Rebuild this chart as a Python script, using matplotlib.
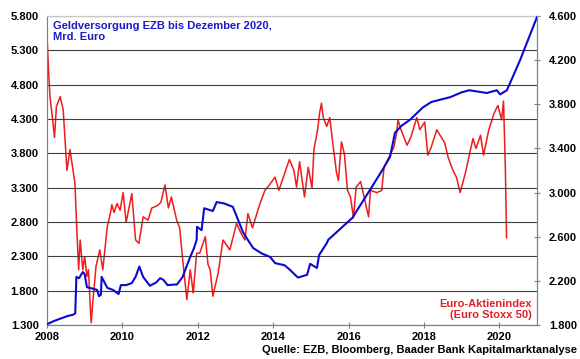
import matplotlib
matplotlib.use("Agg")
import matplotlib.pyplot as plt
from matplotlib.ticker import FuncFormatter

plt.rcParams['font.family'] = ['Liberation Sans', 'DejaVu Sans']
plt.rcParams['font.weight'] = 'bold'
plt.rcParams['font.size'] = 8

# EZB Geldversorgung, Mrd. Euro (linke Achse)
ezb_t = [2008.0, 2008.2, 2008.4, 2008.55, 2008.7, 2008.75, 2008.78, 2008.85, 2008.95, 2009.0,
         2009.06, 2009.2, 2009.33, 2009.38, 2009.43, 2009.45, 2009.6, 2009.75, 2009.9, 2009.96,
         2010.1, 2010.25, 2010.35, 2010.45, 2010.55, 2010.73, 2010.9, 2011.0, 2011.08, 2011.2,
         2011.45, 2011.6, 2011.7, 2011.8, 2011.9, 2011.97, 2011.98, 2012.1, 2012.17, 2012.4,
         2012.5, 2012.7, 2012.93, 2013.07, 2013.2, 2013.35, 2013.47, 2013.7, 2013.92, 2014.05,
         2014.3, 2014.45, 2014.58, 2014.66, 2014.9, 2014.98, 2015.16, 2015.22, 2015.42, 2015.46,
         2015.96, 2016.1, 2016.57, 2016.9, 2017.1, 2017.23, 2017.4, 2017.63, 2017.97, 2018.2,
         2018.7, 2019.0, 2019.2, 2019.67, 2019.93, 2020.02, 2020.2, 2020.55, 2021.0]
ezb_v = [1310, 1360, 1400, 1430, 1450, 1470, 2000, 1980, 2070, 2040,
         1850, 1830, 1810, 1720, 1740, 2000, 1840, 1810, 1750, 1880,
         1880, 1910, 2000, 2150, 2000, 1870, 1920, 1980, 1960, 1880,
         1890, 2000, 2150, 2290, 2420, 2540, 2730, 2680, 3000, 2960,
         3090, 3070, 3020, 2830, 2650, 2520, 2420, 2340, 2290, 2200,
         2170, 2100, 2030, 1990, 2030, 2190, 2130, 2320, 2490, 2540,
         2790, 2860, 3270, 3560, 3750, 4100, 4200, 4290, 4470, 4550,
         4620, 4690, 4720, 4680, 4720, 4660, 4720, 5160, 5790]

# Euro Stoxx 50 (rechte Achse)
sx_t = [2008.0, 2008.01, 2008.05, 2008.08, 2008.13, 2008.2, 2008.25, 2008.35, 2008.43, 2008.53,
        2008.61, 2008.68, 2008.74, 2008.8, 2008.84, 2008.88, 2008.95, 2009.0, 2009.06, 2009.1,
        2009.17, 2009.3, 2009.4, 2009.48, 2009.6, 2009.68, 2009.72, 2009.78, 2009.86, 2009.94,
        2010.02, 2010.1, 2010.25, 2010.35, 2010.44, 2010.55, 2010.68, 2010.78, 2010.92, 2011.02,
        2011.13, 2011.22, 2011.3, 2011.44, 2011.52, 2011.6, 2011.71, 2011.8, 2011.88, 2011.97,
        2012.05, 2012.2, 2012.27, 2012.33, 2012.4, 2012.54, 2012.67, 2012.85, 2013.03, 2013.15,
        2013.25, 2013.33, 2013.45, 2013.65, 2013.78, 2013.9, 2014.05, 2014.15, 2014.31, 2014.43,
        2014.55, 2014.62, 2014.7, 2014.83, 2014.93, 2015.03, 2015.08, 2015.18, 2015.23, 2015.28,
        2015.33, 2015.42, 2015.5, 2015.58, 2015.68, 2015.73, 2015.81, 2015.89, 2015.97, 2016.05,
        2016.13, 2016.2, 2016.32, 2016.45, 2016.53, 2016.58, 2016.75, 2016.88, 2016.94, 2017.07,
        2017.2, 2017.28, 2017.31, 2017.4, 2017.55, 2017.65, 2017.81, 2017.89, 2018.02, 2018.1,
        2018.18, 2018.34, 2018.48, 2018.55, 2018.64, 2018.77, 2018.86, 2018.96, 2019.1, 2019.3,
        2019.38, 2019.5, 2019.58, 2019.72, 2019.86, 2019.96, 2020.06, 2020.11, 2020.16, 2020.19]
sx_v = [4400, 4350, 4050, 3870, 3720, 3500, 3780, 3870, 3750, 3200,
        3390, 3230, 3090, 2600, 2300, 2570, 2300, 2420, 2240, 2300,
        1820, 2330, 2480, 2300, 2690, 2810, 2890, 2820, 2900, 2840,
        3000, 2730, 2990, 2570, 2540, 2780, 2750, 2860, 2880, 2910,
        3070, 2860, 2960, 2750, 2680, 2390, 2030, 2300, 2090, 2450,
        2450, 2600, 2350, 2300, 2060, 2270, 2570, 2480, 2720, 2630,
        2570, 2810, 2680, 2900, 3020, 3070, 3140, 3020, 3180, 3300,
        3200, 3050, 3280, 2960, 3230, 3040, 3390, 3570, 3720, 3810,
        3680, 3600, 3680, 3450, 3180, 3110, 3460, 3350, 3020, 2960,
        2770, 3050, 3100, 2900, 2780, 3020, 3000, 3020, 3230, 3320,
        3410, 3550, 3660, 3560, 3430, 3500, 3680, 3570, 3640, 3340,
        3400, 3570, 3490, 3450, 3320, 3200, 3140, 3000, 3180, 3490,
        3400, 3520, 3340, 3570, 3720, 3790, 3660, 3830, 3200, 2590]

year_ticks = [2008, 2010, 2012, 2014, 2016, 2018, 2020]
left_ticks = [1300, 1800, 2300, 2800, 3300, 3800, 4300, 4800, 5300, 5800]
right_ticks = [1800, 2200, 2600, 3000, 3400, 3800, 4200, 4600]

def de_fmt(v, pos):
    return f'{v:,.0f}'.replace(',', '.')

fig = plt.figure(figsize=(5.8, 3.59), dpi=100)
ax = fig.add_axes([0.081, 0.095, 0.845, 0.86])
ax2 = ax.twinx()

ax.plot(ezb_t, ezb_v, color='#0a0ad0', lw=1.5, zorder=3)
ax2.plot(sx_t, sx_v, color='#ee1c1c', lw=1.1)

# blaue Linie über die rote legen
ax.set_zorder(ax2.get_zorder() + 1)
ax.patch.set_visible(False)

ax.set_xlim(2008, 2021)
ax.set_ylim(left_ticks[0], left_ticks[-1])
ax2.set_ylim(right_ticks[0], right_ticks[-1])
ax.set_yticks(left_ticks)
ax2.set_yticks(right_ticks)
ax.yaxis.set_major_formatter(FuncFormatter(de_fmt))
ax2.yaxis.set_major_formatter(FuncFormatter(de_fmt))
ax.set_xticks(year_ticks)
ax.set_xticklabels([str(y) for y in year_ticks])

ax.grid(axis='y', color='#404040', lw=0.8)
ax.set_axisbelow(True)

for a in (ax, ax2):
    for s in a.spines.values():
        s.set_color('#808080')
    a.spines['top'].set_color('#c8c8c8')
ax.tick_params(axis='y', length=0, pad=6, labelsize=8)
ax.tick_params(axis='x', direction='inout', length=4, color='#808080', pad=3, labelsize=8)
ax2.tick_params(axis='y', direction='inout', length=5, color='#808080', pad=6, labelsize=8)

ax.text(0.012, 0.985, 'Geldversorgung EZB bis Dezember 2020,\nMrd. Euro',
        transform=ax.transAxes, ha='left', va='top', color='#1a1ac8',
        fontsize=8, fontweight='bold', linespacing=1.1)
ax.text(0.99, 0.015, 'Euro-Aktienindex\n(Euro Stoxx 50)',
        transform=ax.transAxes, ha='right', va='bottom', color='#e0202a',
        fontsize=8, fontweight='bold', linespacing=1.1, multialignment='right')
fig.text(0.995, 0.01, 'Quelle: EZB, Bloomberg, Baader Bank Kapitalmarktanalyse',
         ha='right', va='bottom', fontsize=8, fontweight='bold')

fig.savefig('out.png', dpi=100)
